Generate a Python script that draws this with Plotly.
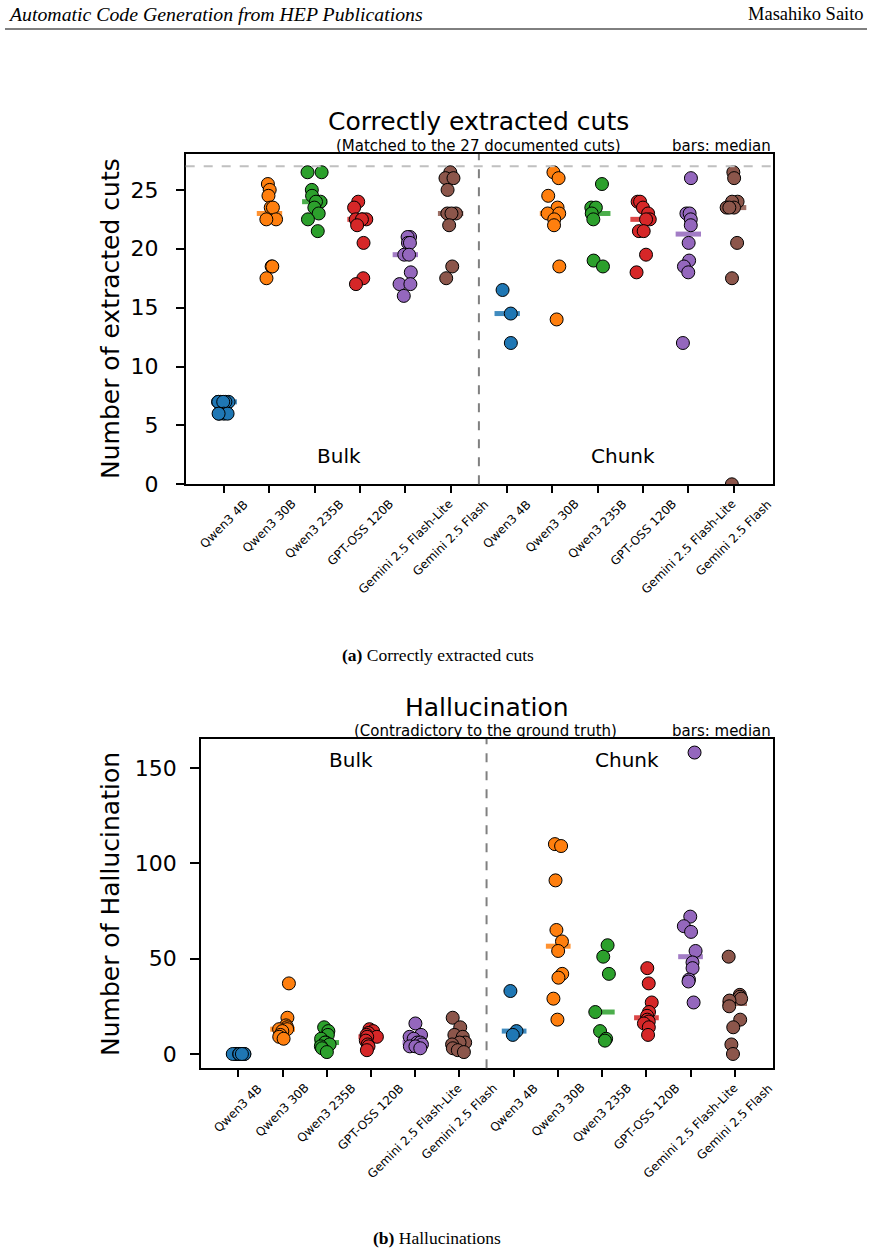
import numpy as np
import plotly.graph_objects as go

# ---------------- data ----------------
models = ["Qwen3 4B", "Qwen3 30B", "Qwen3 235B", "GPT-OSS 120B",
          "Gemini 2.5 Flash-Lite", "Gemini 2.5 Flash"]
colors = ["#1f77b4", "#ff7f0e", "#2ca02c", "#d62728", "#9467bd", "#8c564b"]

# Correctly extracted cuts - Bulk
cuts_bulk_qwen3_4b = [7, 7, 7, 7, 7, 7, 6, 6, 6, 6]
cuts_bulk_qwen3_30b = [25.5, 25, 24.5, 23.5, 23.5, 22.5, 22.5, 18.5, 18.5, 17.5]
cuts_bulk_qwen3_235b = [26.5, 26.5, 25, 24.5, 24, 24, 23.5, 23, 22.5, 21.5]
cuts_bulk_gptoss = [24, 23.5, 22.5, 22.5, 22.5, 22.5, 22, 20.5, 17.5, 17]
cuts_bulk_flashlite = [21, 21, 20.5, 20.5, 19.5, 19.5, 18, 17, 17, 16]
cuts_bulk_flash = [26.5, 26, 26, 25, 23, 23, 23, 22, 18.5, 17.5]
# Correctly extracted cuts - Chunk
cuts_chunk_qwen3_4b = [16.5, 14.5, 12]
cuts_chunk_qwen3_30b = [26.5, 26, 24.5, 23.5, 23, 23, 22.5, 22, 18.5, 14]
cuts_chunk_qwen3_235b = [25.5, 23.5, 23.5, 23, 22.5, 19, 18.5]
cuts_chunk_gptoss = [24, 24, 23.5, 23, 22.5, 22.5, 21.5, 21.5, 19.5, 18]
cuts_chunk_flashlite = [26, 23, 23, 22.5, 22, 20.5, 19, 18.5, 18, 12]
cuts_chunk_flash = [26.5, 26, 24, 24, 23.5, 23.5, 23.5, 20.5, 17.5, 0]

# Hallucination - Bulk
hall_bulk_qwen3_4b = [0, 0, 0, 0, 0, 0, 0, 0, 0, 0]
hall_bulk_qwen3_30b = [37, 19, 15, 14, 13, 13, 12, 10, 9, 8]
hall_bulk_qwen3_235b = [14, 12, 10, 8, 6, 6, 5, 4, 3, 1]
hall_bulk_gptoss = [13, 12, 11, 10, 9, 9, 7, 5, 4, 2]
hall_bulk_flashlite = [16, 10, 9, 8, 6, 6, 5, 4, 4, 3]
hall_bulk_flash = [19, 14, 10, 9, 6, 6, 5, 3, 2, 1]
# Hallucination - Chunk
hall_chunk_qwen3_4b = [33, 12, 10]
hall_chunk_qwen3_30b = [110, 109, 91, 65, 59, 54, 42, 40, 29, 18]
hall_chunk_qwen3_235b = [57, 51, 42, 22, 12, 8, 7]
hall_chunk_gptoss = [45, 37, 27, 22, 20, 18, 17, 16, 14, 10]
hall_chunk_flashlite = [158, 72, 67, 64, 54, 48, 45, 39, 38, 27]
hall_chunk_flash = [51, 31, 30, 29, 28, 25, 18, 14, 5, 0]

documented_cuts = 27

cuts_bulk = [cuts_bulk_qwen3_4b, cuts_bulk_qwen3_30b, cuts_bulk_qwen3_235b,
             cuts_bulk_gptoss, cuts_bulk_flashlite, cuts_bulk_flash]
cuts_chunk = [cuts_chunk_qwen3_4b, cuts_chunk_qwen3_30b, cuts_chunk_qwen3_235b,
              cuts_chunk_gptoss, cuts_chunk_flashlite, cuts_chunk_flash]
hall_bulk = [hall_bulk_qwen3_4b, hall_bulk_qwen3_30b, hall_bulk_qwen3_235b,
             hall_bulk_gptoss, hall_bulk_flashlite, hall_bulk_flash]
hall_chunk = [hall_chunk_qwen3_4b, hall_chunk_qwen3_30b, hall_chunk_qwen3_235b,
              hall_chunk_gptoss, hall_chunk_flashlite, hall_chunk_flash]

# ---------------- layout helpers ----------------
W, H = 872, 1253
def fx(px):
    return px / W
def fy(py):
    return 1 - py / H

FONT = "DejaVu Sans"
SERIF = "Liberation Serif"

gap = 1.25
pos_bulk = [i for i in range(6)]
pos_chunk = [5 + gap + i for i in range(6)]
divider = 5 + gap / 2
xrange_ = [-0.85, 11.25 + 0.87]

TOP_AX = dict(left=185.7, right=773, top=154, bottom=484.3)
BOT_AX = dict(left=201, right=773, top=739, bottom=1068.3)

rng = np.random.default_rng(3)

fig = go.Figure()

def add_panel(bulk, chunk, xa, ya):
    for positions, groups in ((pos_bulk, bulk), (pos_chunk, chunk)):
        for p, vals, c in zip(positions, groups, colors):
            vals = np.asarray(vals, dtype=float)
            med = float(np.median(vals))
            fig.add_trace(go.Scatter(
                x=[p - 0.28, p + 0.28], y=[med, med], mode="lines",
                line=dict(color=c, width=5), opacity=0.85,
                xaxis=xa, yaxis=ya, showlegend=False, hoverinfo="skip"))
            jit = rng.uniform(-0.16, 0.16, size=len(vals))
            fig.add_trace(go.Scatter(
                x=p + jit, y=vals, mode="markers",
                marker=dict(size=13, color=c, line=dict(color="black", width=1)),
                xaxis=xa, yaxis=ya, showlegend=False))

add_panel(cuts_bulk, cuts_chunk, "x", "y")
add_panel(hall_bulk, hall_chunk, "x2", "y2")

tickvals = pos_bulk + pos_chunk
ticktext = models + models

def axis(**kw):
    d = dict(showline=True, linecolor="black", linewidth=1.5, mirror=True,
             ticks="outside", tickwidth=1.5, tickcolor="black",
             showgrid=False, zeroline=False, automargin=False)
    d.update(kw)
    return d

fig.update_layout(
    width=W, height=H, margin=dict(l=0, r=0, t=0, b=0, autoexpand=False),
    paper_bgcolor="white", plot_bgcolor="white",
    font=dict(family=FONT, color="black"),
    xaxis=axis(domain=[fx(TOP_AX["left"]), fx(TOP_AX["right"])], range=xrange_, anchor="y",
               tickvals=tickvals, showticklabels=False, ticklen=7),
    yaxis=axis(domain=[fy(TOP_AX["bottom"]), fy(TOP_AX["top"])], range=[0, 28.05], anchor="x",
               tickvals=[0, 5, 10, 15, 20, 25], ticklen=8, ticklabelstandoff=13,
               tickfont=dict(family=FONT, size=22, color="black")),
    xaxis2=axis(domain=[fx(BOT_AX["left"]), fx(BOT_AX["right"])], range=xrange_, anchor="y2",
                tickvals=tickvals, showticklabels=False, ticklen=7),
    yaxis2=axis(domain=[fy(BOT_AX["bottom"]), fy(BOT_AX["top"])], range=[-7.5, 165.1], anchor="x2",
                tickvals=[0, 50, 100, 150], ticklen=9, ticklabelstandoff=9,
                tickfont=dict(family=FONT, size=22, color="black")),
)

# reference lines
fig.add_shape(type="line", xref="x domain", yref="y", x0=0, x1=1,
              y0=documented_cuts, y1=documented_cuts,
              line=dict(color="#c0c0c0", width=2, dash="dash"))
for xr, yr in (("x", "y domain"), ("x2", "y2 domain")):
    fig.add_shape(type="line", xref=xr, yref=yr, x0=divider, x1=divider, y0=0, y1=1,
                  line=dict(color="#808080", width=2, dash="dash"))

anns = []
def ann(text, x, y, size, xanchor="center", yanchor="middle", family=FONT, angle=0):
    anns.append(dict(text=text, x=fx(x), y=fy(y), xref="paper", yref="paper",
                     showarrow=False, xanchor=xanchor, yanchor=yanchor,
                     textangle=angle, font=dict(family=family, size=size, color="black")))

# rotated category labels, centred on their ticks (matplotlib-style)
for xr, ax in (("x", TOP_AX), ("x2", BOT_AX)):
    for v, t in zip(tickvals, ticktext):
        anns.append(dict(text=t, x=v, xref=xr, y=fy(ax["bottom"] + 10), yref="paper",
                         showarrow=False, xanchor="center", yanchor="top", textangle=-45,
                         font=dict(family=FONT, size=12, color="black")))

# header
ann("<i>Automatic Code Generation from HEP Publications</i>", 6, 14, 19.8, xanchor="left", family=SERIF)
ann("Masahiko Saito", 866, 14, 18.5, xanchor="right", family=SERIF)
fig.add_shape(type="line", xref="paper", yref="paper", x0=fx(5), x1=fx(867),
              y0=fy(29), y1=fy(29), line=dict(color="black", width=1))

# panel (a)
ann("Correctly extracted cuts", 479, 122, 25)
ann("(Matched to the 27 documented cuts)", 478, 146, 15)
ann("bars: median", 773, 146, 15, xanchor="right")
ann("Number of extracted cuts", 110, 319, 25, angle=-90)
ann("Bulk", 339, 456, 20)
ann("Chunk", 623, 456, 20)
ann("<b>(a)</b> Correctly extracted cuts", 438, 655, 17.5, family=SERIF)

# panel (b)
ann("Hallucination", 487, 707, 25)
ann("(Contradictory to the ground truth)", 485, 731, 15)
ann("bars: median", 773, 731, 15, xanchor="right")
ann("Number of Hallucination", 110, 904, 25, angle=-90)
ann("Bulk", 351, 760, 20)
ann("Chunk", 627, 760, 20)
ann("<b>(b)</b> Hallucinations", 437, 1238, 17.5, family=SERIF)

fig.update_layout(annotations=anns)

fig.write_html("out.html")
